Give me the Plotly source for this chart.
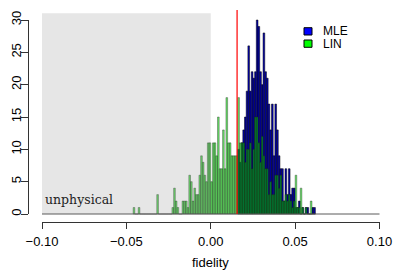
import plotly.graph_objects as go

# ---------------- data ----------------
bin_width = 0.001
lin_first_bin = -0.046   # left edge of first LIN bin
lin_counts = [1, 0, 0, 1, 0, 0, 0, 0, 0, 0, 0, 0, 0, 0,   # -46 .. -33
              3, 0, 0, 0, 0, 0, 0, 0, 0,                  # -32 .. -24
              1, 4, 2, 1, 0, 0, 2, 2, 2, 1,               # -23 .. -14
              6, 5, 2, 4, 3, 3, 6, 9, 8, 6, 5, 11, 11,    # -13 .. -1
              5, 11, 11, 9, 15, 7, 7, 13, 7, 18,          # 0 .. 9
              11, 11, 9, 9, 9, 9, 18, 11, 11, 11,         # 10 .. 19
              8, 10, 10, 11, 7, 10, 15, 15, 11, 8,        # 20 .. 29
              12, 9, 7, 7, 3, 5, 3, 3, 6, 6,              # 30 .. 39
              4, 6, 2, 2, 3, 2, 3, 2, 1, 2,               # 40 .. 49
              6, 1, 1, 4, 1, 0, 1, 0, 0, 2, 0, 0]         # 50 .. 61

mle_first_bin = 0.016
mle_counts = [10, 8, 11, 13, 15, 19, 26, 19, 22, 21,      # 16 .. 25
              22, 30, 29, 22, 20, 28, 22, 21, 17, 13,     # 26 .. 35
              17, 9, 17, 13, 9, 7, 7, 2, 7, 3,            # 36 .. 45
              7, 3, 4, 4, 1, 1, 2, 0, 1, 0,               # 46 .. 55
              1, 1, 0, 0, 1, 1]                           # 56 .. 61

true_fidelity_offset = 0.0156
x_ticks = [-0.10, -0.05, 0.00, 0.05, 0.10]
x_tick_labels = ["\u22120.10", "\u22120.05", "0.00", "0.05", "0.10"]
y_ticks = [0, 5, 10, 15, 20, 25, 30]
series_names = ["MLE", "LIN"]

lin_x = [lin_first_bin + bin_width * (i + 0.5) for i in range(len(lin_counts))]
mle_x = [mle_first_bin + bin_width * (i + 0.5) for i in range(len(mle_counts))]

# ---------------- figure ----------------
FONT = "Liberation Sans, Arial, Helvetica, sans-serif"
W, H = 394, 275
# plot area on screen: x 28..393, y 10..222
ML, MR, MT, MB = 28, 1, 10, H - 222
PW, PH = W - ML - MR, H - MT - MB

XR = [-0.1083, 0.108]
YR = [-1.237, 31.546]


def px_x(v):
    return (v - ML) / PW


def px_y(v):
    return (H - MB - v) / PH


fig = go.Figure()
fig.add_trace(go.Bar(x=mle_x, y=mle_counts, width=bin_width, name=series_names[0],
                     marker=dict(color="rgb(0,0,175)", line=dict(color="black", width=0.5)),
                     showlegend=False))
fig.add_trace(go.Bar(x=lin_x, y=lin_counts, width=bin_width, name=series_names[1],
                     marker=dict(color="rgba(0,205,0,0.6)",
                                 line=dict(color="rgba(30,30,30,0.7)", width=0.5)),
                     showlegend=False))
# dummy trace for the R-style axes
fig.add_trace(go.Scatter(x=[None], y=[None], xaxis="x2", yaxis="y2", showlegend=False,
                         hoverinfo="skip"))

shapes = [
    # unphysical region (drawn on top, semi transparent)
    dict(type="rect", xref="x", yref="y", x0=-0.1, x1=0.0, y0=0, y1=31.05,
         fillcolor="rgba(128,128,128,0.2)", line=dict(width=0), layer="above"),
    # baseline
    dict(type="line", xref="x", yref="y", x0=-0.1, x1=0.1, y0=0, y1=0,
         line=dict(color="rgb(90,90,90)", width=1), layer="above"),
    # true value line
    dict(type="line", xref="x", yref="y", x0=true_fidelity_offset, x1=true_fidelity_offset,
         y0=0, y1=YR[1], line=dict(color="rgb(255,0,0)", width=1.2), layer="above"),
    # legend boxes
    dict(type="rect", xref="paper", yref="paper", x0=px_x(304), x1=px_x(312),
         y0=px_y(35), y1=px_y(27.7), fillcolor="rgb(0,0,255)",
         line=dict(color="black", width=1)),
    dict(type="rect", xref="paper", yref="paper", x0=px_x(304), x1=px_x(312),
         y0=px_y(47.3), y1=px_y(40), fillcolor="rgb(0,255,0)",
         line=dict(color="black", width=1)),
]

annotations = [
    dict(text=series_names[0], xref="paper", yref="paper", x=px_x(320.5), y=px_y(31.3),
         xanchor="left", yanchor="middle", showarrow=False,
         font=dict(family=FONT, size=12, color="black")),
    dict(text=series_names[1], xref="paper", yref="paper", x=px_x(320.5), y=px_y(43.6),
         xanchor="left", yanchor="middle", showarrow=False,
         font=dict(family=FONT, size=12, color="black")),
    dict(text="unphysical", xref="x", yref="y", x=-0.0997, y=2.2,
         xanchor="left", yanchor="middle", showarrow=False,
         font=dict(family="DejaVu Serif, Liberation Serif, serif", size=12.5, color="#222")),
    dict(text="fidelity", xref="x", yref="paper", x=0.0, y=px_y(262),
         xanchor="center", yanchor="middle", showarrow=False,
         font=dict(family=FONT, size=13, color="black")),
]

fig.update_layout(
    width=W, height=H,
    margin=dict(l=ML, r=MR, t=MT, b=MB, pad=0, autoexpand=False),
    paper_bgcolor="white", plot_bgcolor="rgba(0,0,0,0)",
    barmode="overlay", bargap=0,
    shapes=shapes, annotations=annotations,
    xaxis=dict(range=XR, visible=False, domain=[0, 1], automargin=False),
    yaxis=dict(range=YR, visible=False, domain=[0, 1], automargin=False),
    xaxis2=dict(range=[-0.1, 0.1], domain=[px_x(42), px_x(379.5)], anchor="free",
                position=0, showline=True, linecolor="#333", linewidth=1,
                ticks="outside", ticklen=6, tickcolor="#333", tickwidth=1,
                tickvals=x_ticks, ticktext=x_tick_labels, showgrid=False, zeroline=False,
                automargin=False,
                tickfont=dict(family=FONT, size=13, color="black"), ticklabelstandoff=1),
    yaxis2=dict(range=[0, 30], domain=[px_y(214), px_y(20)], anchor="free",
                position=0, showline=True, linecolor="#333", linewidth=1,
                ticks="outside", ticklen=7, tickcolor="#333", tickwidth=1,
                tickvals=y_ticks, showgrid=False, zeroline=False, tickangle=-90,
                automargin=False,
                tickfont=dict(family=FONT, size=13, color="black"), ticklabelstandoff=-5),
)

fig.write_html("out.html",
               config={"displayModeBar": False, "staticPlot": True},
               post_script="document.body.style.margin='0';"
                           "document.body.style.overflow='hidden';")
